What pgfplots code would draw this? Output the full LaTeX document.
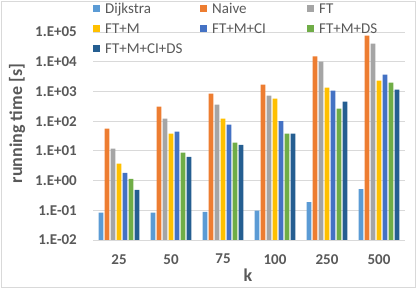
\documentclass[border=0pt]{standalone}
\usepackage{pgfplots}
\pgfplotsset{compat=1.18}
\usepackage{fontspec}
\setmainfont{Carlito}
\definecolor{txt}{HTML}{595959}
\definecolor{gridc}{HTML}{D9D9D9}
\definecolor{cA}{HTML}{5B9BD5}
\definecolor{cB}{HTML}{ED7D31}
\definecolor{cC}{HTML}{A5A5A5}
\definecolor{cD}{HTML}{FFC000}
\definecolor{cE}{HTML}{4472C4}
\definecolor{cF}{HTML}{70AD47}
\definecolor{cG}{HTML}{255E91}
\newcommand{\lt}[1]{\makebox[95bp][l]{#1}}
\begin{document}
\begin{tikzpicture}[x=1bp,y=1bp]
\path[use as bounding box] (0,0) rectangle (420,289);
\draw[gridc, line width=0.8bp] (1,2) rectangle (415,288);
\begin{axis}[
  at={(93bp,49bp)}, anchor=south west,
  scale only axis, width=312bp, height=208bp,
  ymode=log, log origin=infty,
  ymin=1e-2, ymax=1e5,
  xmin=-0.5, xmax=5.5,
  ybar=1.2bp, bar width=4.8bp,
  xtick={0,1,2,3,4,5},
  xticklabels={25,50,75,100,250,500},
  ytick={1e-2,1e-1,1,1e1,1e2,1e3,1e4,1e5},
  yticklabels={1.E-02,1.E-01,1.E+00,1.E+01,1.E+02,1.E+03,1.E+04,1.E+05},
  minor ytick={}, 
  major tick length=0pt, tick style={draw=none},
  ymajorgrids, grid style={gridc, line width=0.8bp},
  axis line style={draw=none},
  extra description/.code={\draw[gridc, line width=0.8bp] (0,0)--(1,0);},
  ticklabel style={font=\fontsize{15bp}{18bp}\selectfont\bfseries, text=txt},
  yticklabel style={anchor=east, inner sep=0pt, xshift=-16bp},
  xticklabel style={anchor=north, inner sep=0pt, yshift=-14bp},
  xlabel={k}, ylabel={running time [s]},
  every axis x label/.style={at={(axis description cs:0.497,-0.168)}, anchor=center,
     font=\fontsize{18bp}{21bp}\selectfont\bfseries, text=txt},
  every axis y label/.style={at={(axis description cs:-0.2436,0.56)}, anchor=center, rotate=90,
     font=\fontsize{18bp}{21bp}\selectfont\bfseries, text=txt},
  legend columns=3,
  legend cell align=left,
  legend style={at={(axis description cs:0,1)}, anchor=north west, yshift=28.7bp,
    draw=none, fill=none, inner sep=0pt, row sep=9.6bp,
    font=\fontsize{15bp}{18bp}\selectfont, text=txt,
    nodes={inner sep=0pt, text height=10bp, text depth=0.4bp},
    /tikz/every odd column/.append style={column sep=5bp},
    /tikz/every even column/.append style={column sep=0bp}},
  every axis plot post/.append style={draw=none,
    legend image code/.code={\fill[##1,draw=none] (0bp,-3.5bp) rectangle (7bp,3.5bp);}},
]
\addplot[fill=cA] coordinates {(0,0.083) (1,0.083) (2,0.088) (3,0.097) (4,0.19) (5,0.52)};
\addplot[fill=cB] coordinates {(0,56) (1,309) (2,850) (3,1700) (4,15000) (5,76000)};
\addplot[fill=cC] coordinates {(0,11.8) (1,121) (2,360) (3,724) (4,10150) (5,41000)};
\addplot[fill=cD] coordinates {(0,3.7) (1,38) (2,121) (3,570) (4,1350) (5,2330)};
\addplot[fill=cE] coordinates {(0,1.82) (1,44) (2,76) (3,100) (4,1070) (5,3700)};
\addplot[fill=cF] coordinates {(0,1.15) (1,8.7) (2,18.8) (3,38) (4,264) (5,1990)};
\addplot[fill=cG] coordinates {(0,0.49) (1,6.3) (2,16) (3,38) (4,455) (5,1150)};
\legend{\lt{Dijkstra},\lt{Naive},\lt{FT},\lt{FT+M},\lt{FT+M+CI},\lt{FT+M+DS},\lt{FT+M+CI+DS}}
\end{axis}
\end{tikzpicture}
\end{document}
